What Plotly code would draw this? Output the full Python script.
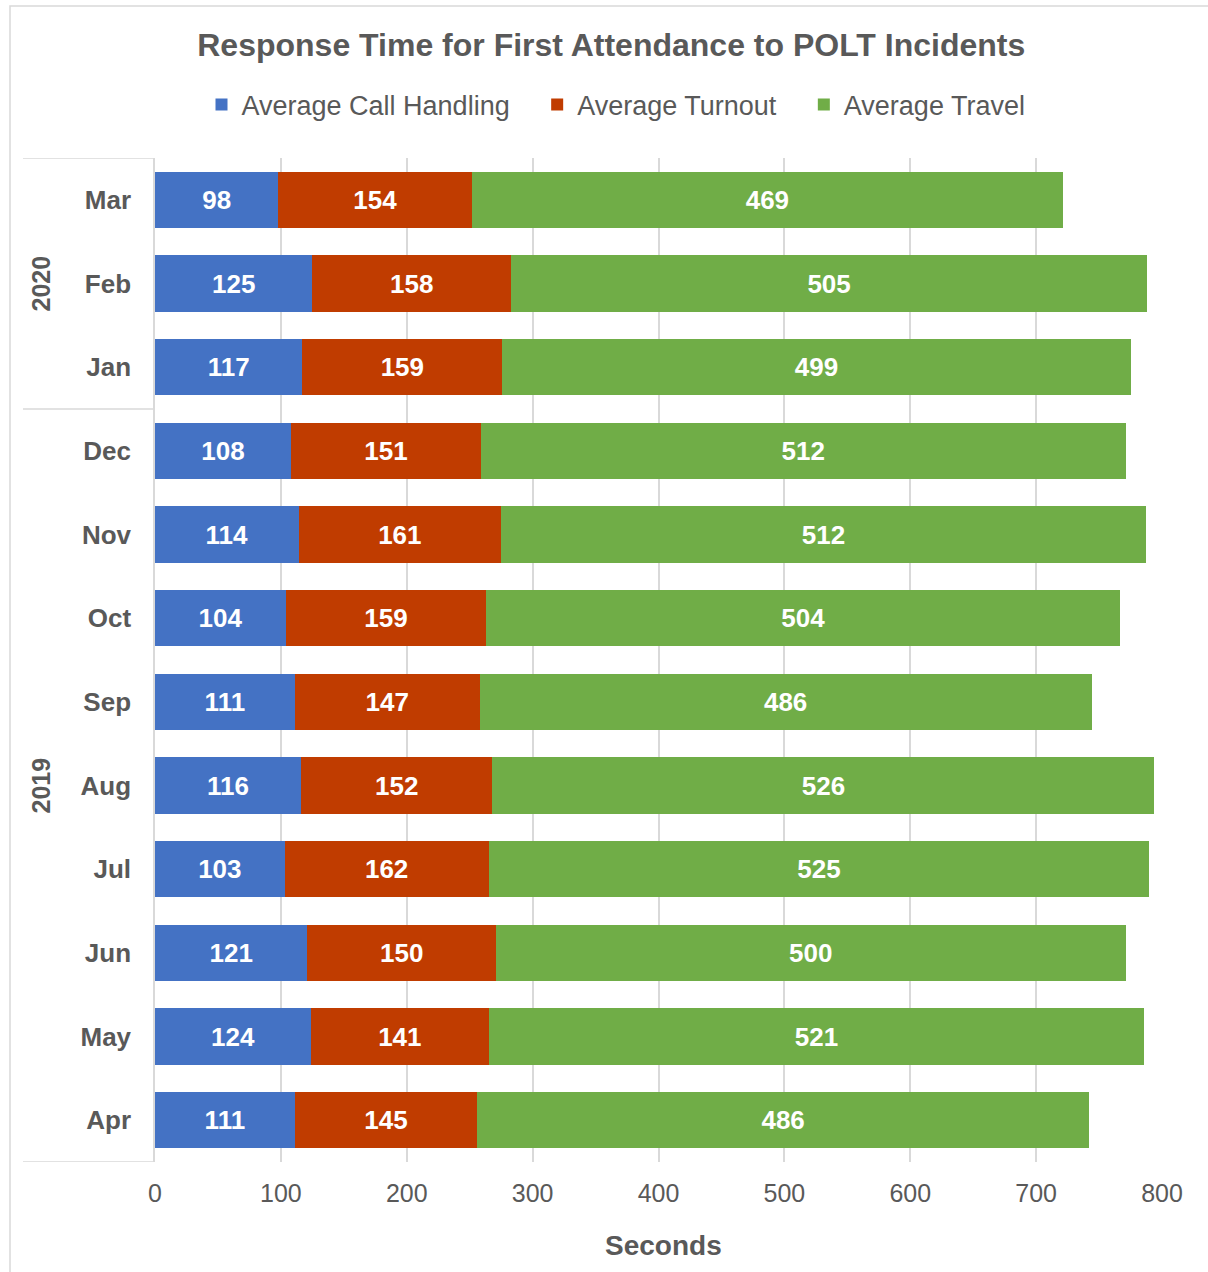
import plotly.graph_objects as go

months = ["Apr", "May", "Jun", "Jul", "Aug", "Sep", "Oct", "Nov", "Dec", "Jan", "Feb", "Mar"]
years = ["2019", "2020"]
call_handling = [111, 124, 121, 103, 116, 111, 104, 114, 108, 117, 125, 98]
turnout = [145, 141, 150, 162, 152, 147, 159, 161, 151, 159, 158, 154]
travel = [486, 521, 500, 525, 526, 486, 504, 512, 512, 499, 505, 469]
x_ticks = [0, 100, 200, 300, 400, 500, 600, 700, 800]

series = [
    ("Average Call Handling", call_handling, "#4472C4"),
    ("Average Turnout", turnout, "#C03C00"),
    ("Average Travel", travel, "#70AD47"),
]

FONT = "Liberation Sans, Arial, sans-serif"
GREY = "#595959"
LINE = "#D9D9D9"
PAD = "\u00a0" * 3

fig = go.Figure()
for i, (name, vals, col) in enumerate(series):
    fig.add_trace(go.Bar(
        y=months, x=vals, name=name + (PAD if i < len(series) - 1 else ""),
        orientation="h",
        marker=dict(color=col, line=dict(width=0)),
        text=[str(v) for v in vals], textposition="inside",
        insidetextanchor="middle",
        textfont=dict(family=FONT, size=26, color="white", weight="bold"),
        cliponaxis=False,
    ))

L, R, T, B = 155, 46, 158, 110
W, H = 1208, 1272
pw, ph = W - L - R, H - T - B

def px_x(p):
    return (p - L) / pw

def px_y(p):
    return (H - B - p) / ph

shapes = []
for yv in [-0.5, 8.5, 11.5]:
    shapes.append(dict(type="line", xref="paper", yref="y", x0=px_x(23), x1=0,
                       y0=yv, y1=yv, line=dict(color=LINE, width=1.5)))
shapes.append(dict(type="rect", xref="paper", yref="paper", x0=px_x(10), x1=px_x(1230),
                   y0=px_y(1300), y1=px_y(6), line=dict(color=LINE, width=1.5),
                   fillcolor="rgba(0,0,0,0)", layer="below"))

annotations = [
    dict(text=years[1], xref="paper", yref="y", x=px_x(40), y=10, showarrow=False,
         xanchor="center", yanchor="middle", textangle=-90,
         font=dict(family=FONT, size=25, color=GREY, weight="bold")),
    dict(text=years[0], xref="paper", yref="y", x=px_x(40), y=4, showarrow=False,
         xanchor="center", yanchor="middle", textangle=-90,
         font=dict(family=FONT, size=25, color=GREY, weight="bold")),
    dict(text="Seconds", xref="paper", yref="paper", x=px_x(663), y=px_y(1245),
         showarrow=False, xanchor="center", yanchor="middle",
         font=dict(family=FONT, size=28, color=GREY, weight="bold")),
]

fig.update_layout(
    width=W, height=H,
    margin=dict(l=L, r=R, t=T, b=B, pad=0),
    paper_bgcolor="white", plot_bgcolor="white",
    barmode="stack", bargap=0.33,
    font=dict(family=FONT, color=GREY),
    title=dict(text="Response Time for First Attendance to POLT Incidents",
               x=0.506, xanchor="center", xref="container",
               y=1 - 45 / H, yanchor="middle", yref="container",
               font=dict(family=FONT, size=32, color=GREY, weight="bold")),
    legend=dict(orientation="h", x=px_x(616), xanchor="center",
                y=px_y(105), yanchor="middle",
                font=dict(family=FONT, size=27, color=GREY),
                traceorder="normal", itemwidth=30),
    xaxis=dict(range=[0, 800], tickvals=x_ticks, ticktext=[str(v) for v in x_ticks],
               showgrid=True, gridcolor=LINE, gridwidth=1.5, zeroline=False,
               showline=False, ticks="", ticklabelstandoff=14,
               tickfont=dict(family=FONT, size=25, color=GREY)),
    yaxis=dict(categoryorder="array", categoryarray=months, range=[-0.5, 11.5],
               showgrid=False, zeroline=False, showline=True, linecolor=LINE, linewidth=1.5,
               ticks="", ticklabelstandoff=17,
               tickfont=dict(family=FONT, size=26, color=GREY, weight="bold")),
    shapes=shapes, annotations=annotations,
)

fig.write_html("out.html")
